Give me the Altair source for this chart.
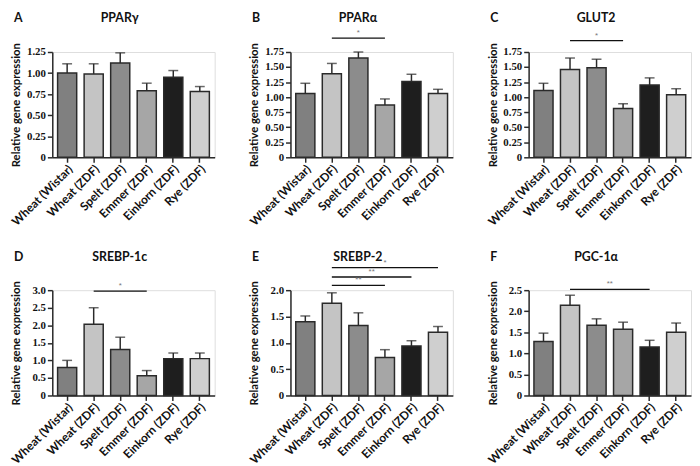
import altair as alt
import pandas as pd

categories = ["Wheat (Wistar)", "Wheat (ZDF)", "Spelt (ZDF)", "Emmer (ZDF)", "Einkorn (ZDF)", "Rye (ZDF)"]
bar_colors = ["#808080", "#c4c4c4", "#8c8c8c", "#a6a6a6", "#1e1e1e", "#cfcfcf"]

# Panel A: PPARγ
ppar_g_mean = [1.00, 0.99, 1.12, 0.79, 0.95, 0.78]
ppar_g_err = [0.11, 0.12, 0.12, 0.09, 0.08, 0.06]
# Panel B: PPARα
ppar_a_mean = [1.06, 1.39, 1.65, 0.87, 1.26, 1.06]
ppar_a_err = [0.17, 0.17, 0.10, 0.10, 0.12, 0.07]
# Panel C: GLUT2
glut2_mean = [1.11, 1.46, 1.49, 0.81, 1.20, 1.04]
glut2_err = [0.12, 0.19, 0.14, 0.08, 0.12, 0.10]
# Panel D: SREBP-1c
srebp1c_mean = [0.80, 2.03, 1.31, 0.56, 1.05, 1.05]
srebp1c_err = [0.20, 0.47, 0.35, 0.15, 0.16, 0.16]
# Panel E: SREBP-2
srebp2_mean = [1.40, 1.75, 1.33, 0.72, 0.94, 1.20]
srebp2_err = [0.11, 0.20, 0.24, 0.15, 0.10, 0.11]
# Panel F: PGC-1α
pgc1a_mean = [1.28, 2.14, 1.67, 1.57, 1.15, 1.50]
pgc1a_err = [0.20, 0.24, 0.15, 0.17, 0.16, 0.22]

# significance brackets: (from, to, height, label)
sig_b = [("Wheat (ZDF)", "Emmer (ZDF)", 1.98, "*")]
sig_c = [("Wheat (ZDF)", "Emmer (ZDF)", 1.94, "*")]
sig_d = [("Wheat (ZDF)", "Emmer (ZDF)", 2.97, "*")]
sig_e = [("Wheat (ZDF)", "Emmer (ZDF)", 2.09, "**"),
         ("Wheat (ZDF)", "Einkorn (ZDF)", 2.25, "**"),
         ("Wheat (ZDF)", "Rye (ZDF)", 2.43, "*")]
sig_f = [("Wheat (ZDF)", "Einkorn (ZDF)", 2.52, "**")]

W = 165
H = 107
P_INNER = 0.28
P_OUTER = 0.2
STEP = W / (len(categories) - P_INNER + 2 * P_OUTER)
DARK = "#2a2a2a"


def panel(letter, title, means, errs, ymax, step, fmt, sigs):
    df = pd.DataFrame({"cat": categories, "mean": means,
                       "top": [m + e for m, e in zip(means, errs)]})
    ticks = []
    v = 0.0
    while v <= ymax + 1e-9:
        ticks.append(round(v, 4))
        v += step
    xscale = alt.Scale(domain=categories, paddingInner=P_INNER, paddingOuter=P_OUTER)
    xaxis = alt.Axis(title=None, labelAngle=-45, labelAlign="right", labelBaseline="top",
                     labelFontSize=12, labelFont="Lato", labelFontWeight="bold",
                     labelColor="#111", tickSize=5, tickWidth=1.5, tickColor=DARK,
                     domainColor=DARK, domainWidth=1.5, labelPadding=1,
                     labelOverlap=False)
    yscale = alt.Scale(domain=[0, ymax], nice=False, zero=True)
    yaxis = alt.Axis(title="Relative gene expression", values=ticks,
                     labelExpr=f"datum.value == 0 ? '0' : format(datum.value, '{fmt}')",
                     labelFont="Liberation Serif", labelFontWeight="bold", labelFontSize=11,
                     labelColor="#111", titleFont="Lato", titleFontWeight="bold",
                     titleFontSize=11.5, titleColor="#111", tickSize=5, tickWidth=1.5,
                     tickColor=DARK, domainColor=DARK, domainWidth=1.5, grid=False,
                     labelOverlap=False, minExtent=27, maxExtent=27, titlePadding=4,
                     labelPadding=2)

    def X(field):
        return alt.X(field, type="nominal", sort=categories, scale=xscale, axis=xaxis)

    def Y(field):
        return alt.Y(field, type="quantitative", scale=yscale, axis=yaxis)

    bars = alt.Chart(df).mark_bar(stroke=DARK, strokeWidth=1.5).encode(
        x=X("cat"), y=Y("mean"),
        color=alt.Color("cat:N", scale=alt.Scale(domain=categories, range=bar_colors), legend=None),
    )
    err = alt.Chart(df).mark_rule(color=DARK, strokeWidth=1.5).encode(
        x=X("cat"), y=Y("mean"), y2="top:Q")
    cap = alt.Chart(df).mark_tick(color=DARK, thickness=1.5, size=10).encode(
        x=X("cat"), y=Y("top"))
    layers = [bars, err, cap]
    if sigs:
        sdf = pd.DataFrame({"a": [s[0] for s in sigs], "b": [s[1] for s in sigs],
                            "h": [s[2] for s in sigs], "lab": [s[3] for s in sigs],
                            "mid": [(categories.index(s[0]) + categories.index(s[1])) / 2 for s in sigs]})
        sdf["midcat"] = [categories[int(m)] for m in sdf["mid"]]
        sdf["half"] = [(m - int(m)) for m in sdf["mid"]]
        lines = alt.Chart(sdf).mark_rule(color="#111", strokeWidth=1.3).encode(
            x=X("a"), x2="b:N", y=Y("h"))
        layers.append(lines)
        whole = sdf[sdf["half"] == 0]
        halfs = sdf[sdf["half"] > 0]
        if len(whole):
            layers.append(alt.Chart(whole).mark_text(color="#777", fontSize=8, dy=-5).encode(
                x=X("midcat"), y=Y("h"), text="lab:N"))
        if len(halfs):
            layers.append(alt.Chart(halfs).mark_text(color="#777", fontSize=8, dy=-5, dx=STEP / 2).encode(
                x=X("midcat"), y=Y("h"), text="lab:N"))
    head = pd.DataFrame({"t": [letter], "ttl": [title]})
    lab = alt.Chart(head).mark_text(
        font="Lato", fontWeight="bold", fontSize=12.5, color="#111", align="left",
        baseline="middle").encode(x=alt.value(-39), y=alt.value(-34), text="t:N")
    ttl = alt.Chart(head).mark_text(
        font="Lato", fontWeight="bold", fontSize=12.5, color="#111", align="center",
        baseline="middle").encode(x=alt.value(W / 2 - 14), y=alt.value(-34), text="ttl:N")
    layers += [lab, ttl]
    return alt.layer(*layers).properties(width=W, height=H)


row1 = alt.hconcat(
    panel("A", "PPARγ", ppar_g_mean, ppar_g_err, 1.25, 0.25, ".2f", []),
    panel("B", "PPARα", ppar_a_mean, ppar_a_err, 1.75, 0.25, ".2f", sig_b),
    panel("C", "GLUT2", glut2_mean, glut2_err, 1.75, 0.25, ".2f", sig_c),
    spacing=31,
)
row2 = alt.hconcat(
    panel("D", "SREBP-1c", srebp1c_mean, srebp1c_err, 3.0, 0.5, ".1f", sig_d),
    panel("E", "SREBP-2", srebp2_mean, srebp2_err, 2.0, 0.5, ".1f", sig_e),
    panel("F", "PGC-1α", pgc1a_mean, pgc1a_err, 2.5, 0.5, ".1f", sig_f),
    spacing=31,
)
chart = alt.vconcat(row1, row2, spacing=22).configure_view(strokeWidth=0).configure(
    background="white", padding=0)

chart.save("out.html", embed_options={"renderer": "svg", "actions": False})
